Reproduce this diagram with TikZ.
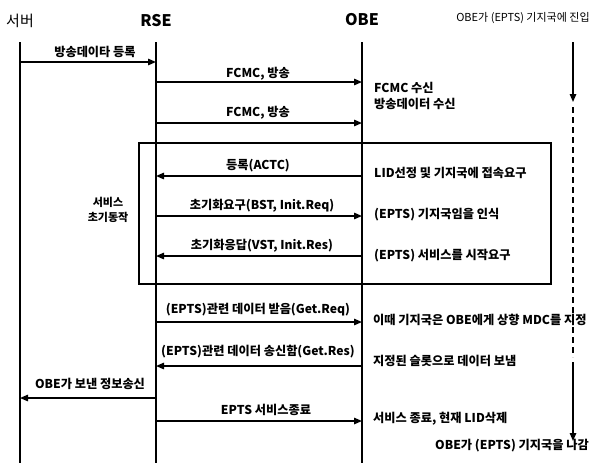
\documentclass[tikz,border=0pt]{standalone}
\usepackage{fontspec}
\setmainfont{Noto Sans CJK KR}
\usetikzlibrary{arrows.meta}
\begin{document}
\begin{tikzpicture}[x=1pt,y=-1pt,
  life/.style={line width=1.1pt},
  msg/.style={line width=1.4pt,-{Triangle[length=8pt,width=6.5pt]}},
  lbl/.style={font=\bfseries\fontsize{12.2}{14}\selectfont, inner sep=0pt},
  note/.style={lbl, anchor=west},
  head/.style={font=\bfseries\fontsize{16}{17}\selectfont, inner sep=0pt},
  dashline/.style={line width=1.2pt, dash pattern=on 6pt off 4pt}]
\useasboundingbox (0,0) rectangle (604,463);
% headers
\node[font=\fontsize{15}{16}\selectfont, inner sep=0pt] (hS) at (20,21) {서버};
\node[head] (hR) at (156,21) {RSE};
\node[head] (hO) at (362,20) {OBE};
\node[font=\fontsize{11}{12}\selectfont, inner sep=0pt] (hT) at (523,18) {OBE가 (EPTS) 기지국에 진입};
% lifelines
\coordinate (S) at (20,42);  \coordinate (Sb) at (20,463);
\coordinate (R) at (156,42); \coordinate (Rb) at (156,463);
\coordinate (O) at (362,42); \coordinate (Ob) at (362,463);
\draw[life] (S) -- (Sb);
\draw[life] (R) -- (Rb);
\draw[life] (O) -- (Ob);
% box
\node[draw, line width=1.1pt, minimum width=412pt, minimum height=141pt, inner sep=0pt] (box) at (345,213.5) {};
\node[font=\bfseries\fontsize{11}{12}\selectfont, inner sep=0pt, align=center] (init) at (108,210) {서비스\\[3pt]초기동작};
% message rows
\coordinate (m1) at (0,62);
\coordinate (m2) at (0,82);
\coordinate (m3) at (0,123);
\coordinate (m4) at (0,176);
\coordinate (m5) at (0,216);
\coordinate (m6) at (0,256);
\coordinate (m7) at (0,322);
\coordinate (m8) at (0,366);
\coordinate (m9) at (0,398);
\coordinate (m10) at (0,421);
\draw[msg] (S|-m1) -- (R|-m1);
\draw[msg] (R|-m2) -- (O|-m2);
\draw[msg] (R|-m3) -- (O|-m3);
\draw[msg] (O|-m4) -- (R|-m4);
\draw[msg] (R|-m5) -- (O|-m5);
\draw[msg] (O|-m6) -- (R|-m6);
\draw[msg] (R|-m7) -- (O|-m7);
\draw[msg] (O|-m8) -- (R|-m8);
\draw[msg] (R|-m9) -- (S|-m9);
\draw[msg] (R|-m10) -- (O|-m10);
% message labels
\node[lbl] (l1) at (95,52) {방송데이타 등록};
\node[lbl] (l2) at (258,74) {FCMC, 방송};
\node[lbl] (l3) at (258,113) {FCMC, 방송};
\node[lbl] (l4) at (258,166) {등록(ACTC)};
\node[lbl] (l5) at (262,206) {초기화요구(BST, Init.Req)};
\node[lbl] (l6) at (262,246) {초기화응답(VST, Init.Res)};
\node[lbl] (l7) at (258,310) {(EPTS)관련 데이터 받음(Get.Req)};
\node[lbl] (l8) at (258,352) {(EPTS)관련 데이터 송신함(Get.Res)};
\node[lbl] (l9) at (90,384) {OBE가 보낸 정보송신};
\node[lbl] (l10) at (266,410) {EPTS 서비스종료};
% OBE notes
\node[note] (n1) at (374,88) {FCMC 수신};
\node[note] (n2) at (374,104) {방송데이터 수신};
\node[note] (n3) at (374,173) {LID선정 및 기지국에 접속요구};
\node[note] (n4) at (374,215) {(EPTS) 기지국임을 인식};
\node[note] (n5) at (374,256) {(EPTS) 서비스를 시작요구};
\node[note] (n6) at (373,320) {이때 기지국은 OBE에게 상향 MDC를 지정};
\node[note] (n7) at (373,361) {지정된 슬롯으로 데이터 보냄};
\node[note] (n8) at (373,419) {서비스 종료, 현재 LID삭제};
\node[lbl] (n9) at (512,446) {OBE가 (EPTS) 기지국을 나감};
% right-hand timeline
\coordinate (T0) at (573,42);
\coordinate (T1) at (573,102);
\coordinate (T2) at (573,107);
\coordinate (T3) at (573,357);
\coordinate (T4) at (573,362);
\coordinate (T5) at (573,441);
\draw[msg] (T0) -- (T1);
\draw[dashline] (T2) -- (T3);
\draw[msg] (T4) -- (T5);
\end{tikzpicture}
\end{document}
